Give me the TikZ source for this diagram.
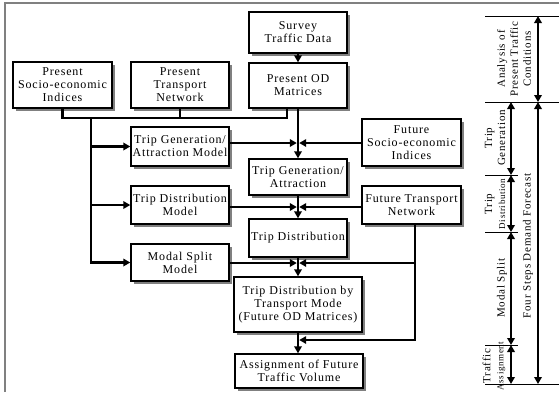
\documentclass[tikz,border=0pt]{standalone}
\usepackage{fontspec}
\setmainfont{Liberation Serif}[LetterSpace=7]
\usetikzlibrary{arrows.meta,shadows}

\begin{document}
\begin{tikzpicture}[x=1pt, y=-1pt,
    box/.style={draw, line width=1.4pt, fill=white, inner sep=1pt, align=center,
      font=\fontsize{12}{13}\selectfont,
      drop shadow={shadow xshift=3pt, shadow yshift=-3pt, fill=black!50, opacity=1}},
    conn/.style={line width=2.4pt},
    arr/.style={conn, -{Triangle[length=7pt, width=7.5pt]}},
    tick/.style={line width=1pt},
    span/.style={line width=2.2pt, {Triangle[length=7pt, width=7.5pt]}-{Triangle[length=7pt, width=7.5pt]}},
    lbl/.style={rotate=90, align=center, inner sep=0pt, font=\fontsize{11}{13}\selectfont}]
    \useasboundingbox (0,0) rectangle (559,392);
    \draw[black!50, line width=1.4pt] (5,392) -- (5,3) -- (559,3);

    % present conditions
    \node[box, minimum width=98pt, minimum height=41pt] (survey) at (298,32.5) {Survey\\Traffic Data};
    \node[box, minimum width=98pt, minimum height=45pt] (presod) at (298,85.5) {Present OD\\Matrices};
    \node[box, minimum width=99pt, minimum height=46pt] (psocio) at (62.5,85) {Present\\Socio-economic\\Indices};
    \node[box, minimum width=98pt, minimum height=46pt] (ptrans) at (180,85) {Present\\Transport\\Network};

    % models
    \node[box, minimum width=98pt, minimum height=39pt] (genmodel) at (180,146.5) {Trip Generation/\\Attraction Model};
    \node[box, minimum width=98pt, minimum height=38pt] (distmodel) at (180,205) {Trip Distribution\\Model};
    \node[box, minimum width=98pt, minimum height=37pt] (splitmodel) at (180,262.5) {Modal Split\\Model};

    % forecast steps
    \node[box, minimum width=98pt, minimum height=36pt] (genattr) at (298,177) {Trip Generation/\\Attraction};
    \node[box, minimum width=98pt, minimum height=38pt] (tripdist) at (298,238) {Trip Distribution};
    \node[box, minimum width=128pt, minimum height=55pt] (tdmode) at (298,304.5) {Trip Distribution by\\Transport Mode\\(Future OD Matrices)};
    \node[box, minimum width=128pt, minimum height=34pt] (assign) at (299,371) {Assignment of Future\\Traffic Volume};

    % future inputs
    \node[box, minimum width=99pt, minimum height=47pt] (fsocio) at (411.5,142.5) {Future\\Socio-economic\\Indices};
    \node[box, minimum width=99pt, minimum height=38pt] (ftrans) at (411.5,205) {Future Transport\\Network};

    % present data bus and model trunk
    \coordinate (bus) at (91,118);
    \draw[conn] (psocio.south) -- (psocio.south |- bus) -| ([xshift=-11pt]presod.south);
    \draw[conn] (ptrans.south) -- (ptrans.south |- bus);
    \draw[arr] (bus) |- (splitmodel.west);
    \draw[arr] (bus |- genmodel.west) -- (genmodel.west);
    \draw[arr] (bus |- distmodel.west) -- (distmodel.west);

    % junctions on the main column
    \coordinate (j1) at (298,143);
    \coordinate (j2) at (298,207);
    \coordinate (j3) at (298,263);
    \coordinate (j4) at (298,340);
    \coordinate (fnet) at ([xshift=3.5pt]ftrans.south);
    \draw[arr] (survey) -- (presod);
    \draw[arr] (presod) -- (genattr);
    \draw[arr] (genattr) -- (tripdist);
    \draw[arr] (tripdist) -- (tdmode);
    \draw[arr] (tdmode) -- (assign.north -| tdmode.south);
    \draw[arr] (genmodel.east |- j1) -- ([xshift=-1.2pt]j1);
    \draw[arr] (fsocio.west |- j1) -- ([xshift=1.2pt]j1);
    \draw[arr] (distmodel.east |- j2) -- ([xshift=-1.2pt]j2);
    \draw[arr] (ftrans.west |- j2) -- ([xshift=1.2pt]j2);
    \draw[arr] (splitmodel.east |- j3) -- ([xshift=-1.2pt]j3);
    \draw[arr] (fnet) |- ([xshift=1.2pt]j3);
    \draw[arr] (fnet) |- ([xshift=1.2pt]j4);

    % stage scale
    \foreach \y in {16,102,384}
      \draw[tick] (485,\y) -- (559,\y);
    \foreach \y in {175,232,345}
      \draw[tick] (485,\y) -- (518,\y);
    \draw[span] (538,16) -- (538,102);
    \draw[span] (538,102) -- (538,384);
    \foreach \a/\b in {102/175,175/232,232/345,345/384}
      \draw[span] (511,\a) -- (511,\b);

    \node[lbl] (lanalysis) at (514,59) {Analysis of\\Present Traffic\\Conditions};
    \node[lbl] (lgen) at (495,138) {Trip\\Generation};
    \node[lbl] (ldist) at (495,204) {Trip\\{\fontsize{9}{12}\selectfont Distribution}};
    \node[lbl] (lsplit) at (502,288) {Modal Split};
    \node[lbl] (lassign) at (494,366) {Traffic\\{\fontsize{9}{12}\selectfont Assignment}};
    \node[lbl] (lfour) at (528,246) {Four Steps Demand Forecast};
\end{tikzpicture}
\end{document}
